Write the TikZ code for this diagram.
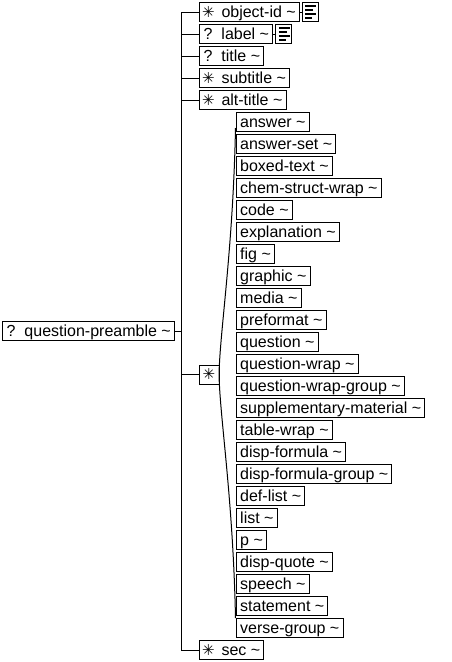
\documentclass[tikz,border=0pt]{standalone}
\usepackage{fontspec}
\setmainfont{Liberation Sans}
\newfontfamily\starfont{DejaVu Sans}
\usetikzlibrary{positioning}
\newcommand{\qmark}{\makebox[18.8pt][l]{\hspace{0.8pt}?}}
\newcommand{\smark}{\makebox[18.8pt][l]{\hspace{-0.6pt}\raisebox{0.3pt}{\starfont\fontsize{15}{15}\selectfont ✳}}}

\begin{document}
\begin{tikzpicture}[x=1pt, y=-1pt, line width=1pt, node distance=3pt,
    elem/.style = {draw, outer sep=0pt, inner xsep=3.7pt, inner ysep=2pt,
      text height=13pt, text depth=2pt, font=\fontsize{16}{19}\selectfont},
    choice/.style = {draw, outer sep=0pt, inner sep=0pt, minimum width=20pt, minimum height=19pt},
    docicon/.style = {draw, outer sep=0pt, inner sep=0pt, minimum width=16pt, minimum height=19pt,
      path picture={
        \draw[line width=2pt] ([xshift=3pt,yshift=-3.5pt]path picture bounding box.north west) -- ++(11,0);
        \draw[line width=2pt] ([xshift=3pt,yshift=-7.5pt]path picture bounding box.north west) -- ++(8,0);
        \draw[line width=2pt] ([xshift=3pt,yshift=-11.5pt]path picture bounding box.north west) -- ++(11,0);
        \draw[line width=2pt] ([xshift=3pt,yshift=-15.5pt]path picture bounding box.north west) -- ++(7,0);
      }}]
        \useasboundingbox (0,0) rectangle (451,662);

        \node[elem, anchor=west] (1) at (2,331) {\qmark question-preamble \textasciitilde\hspace{2.5pt}};

        \node[elem, anchor=west] (2) at (199,12) {\smark object-id \textasciitilde};
        \node[elem, below=of 2.south west, anchor=north west] (3) {\qmark label \textasciitilde};
        \node[elem, below=of 3.south west, anchor=north west] (4) {\qmark title \textasciitilde};
        \node[elem, below=of 4.south west, anchor=north west] (5) {\smark subtitle \textasciitilde};
        \node[elem, below=of 5.south west, anchor=north west] (6) {\smark alt-title \textasciitilde};
        \node[choice] (7) at (209,374.5) {\starfont\fontsize{15}{15}\selectfont ✳};
        \node[elem, anchor=west] (32) at (199,650) {\smark sec \textasciitilde};

        \node[docicon, right=of 2] (33) {};
        \node[docicon, right=of 3] (34) {};

        \node[elem, anchor=west] (8) at (236.5,122) {answer \textasciitilde};
        \node[elem, below=of 8.south west, anchor=north west] (9) {answer-set \textasciitilde};
        \node[elem, below=of 9.south west, anchor=north west] (10) {boxed-text \textasciitilde};
        \node[elem, below=of 10.south west, anchor=north west] (11) {chem-struct-wrap \textasciitilde};
        \node[elem, below=of 11.south west, anchor=north west] (12) {code \textasciitilde};
        \node[elem, below=of 12.south west, anchor=north west] (13) {explanation \textasciitilde};
        \node[elem, below=of 13.south west, anchor=north west] (14) {fig \textasciitilde};
        \node[elem, below=of 14.south west, anchor=north west] (15) {graphic \textasciitilde};
        \node[elem, below=of 15.south west, anchor=north west] (16) {media \textasciitilde};
        \node[elem, below=of 16.south west, anchor=north west] (17) {preformat \textasciitilde};
        \node[elem, below=of 17.south west, anchor=north west] (18) {question \textasciitilde};
        \node[elem, below=of 18.south west, anchor=north west] (19) {question-wrap \textasciitilde};
        \node[elem, below=of 19.south west, anchor=north west] (20) {question-wrap-group \textasciitilde};
        \node[elem, below=of 20.south west, anchor=north west] (21) {supplementary-material \textasciitilde};
        \node[elem, below=of 21.south west, anchor=north west] (22) {table-wrap \textasciitilde};
        \node[elem, below=of 22.south west, anchor=north west] (23) {disp-formula \textasciitilde};
        \node[elem, below=of 23.south west, anchor=north west] (24) {disp-formula-group \textasciitilde};
        \node[elem, below=of 24.south west, anchor=north west] (25) {def-list \textasciitilde};
        \node[elem, below=of 25.south west, anchor=north west] (26) {list \textasciitilde};
        \node[elem, below=of 26.south west, anchor=north west] (27) {p \textasciitilde};
        \node[elem, below=of 27.south west, anchor=north west] (28) {disp-quote \textasciitilde};
        \node[elem, below=of 28.south west, anchor=north west] (29) {speech \textasciitilde};
        \node[elem, below=of 29.south west, anchor=north west] (30) {statement \textasciitilde};
        \node[elem, below=of 30.south west, anchor=north west] (31) {verse-group \textasciitilde};

        \coordinate (trunk) at (181,331);
        \coordinate (ctop) at (235.5,128);
        \coordinate (cbot) at (235.5,618);

        \draw (1.east) -- (trunk);
        \draw (trunk |- 2.west) -- (trunk |- 32.west);
        \draw (trunk |- 2.west) -- (2.west);
        \draw (trunk |- 3.west) -- (3.west);
        \draw (trunk |- 4.west) -- (4.west);
        \draw (trunk |- 5.west) -- (5.west);
        \draw (trunk |- 6.west) -- (6.west);
        \draw (trunk |- 7.west) -- (7.west);
        \draw (trunk |- 32.west) -- (32.west);
        \draw (2) -- (33);
        \draw (3) -- (34);

        \draw (ctop) .. controls (233,250) and (220,330) .. (7.east)
          .. controls (220,419) and (233,498) .. (cbot);
    \end{tikzpicture}
\end{document}
